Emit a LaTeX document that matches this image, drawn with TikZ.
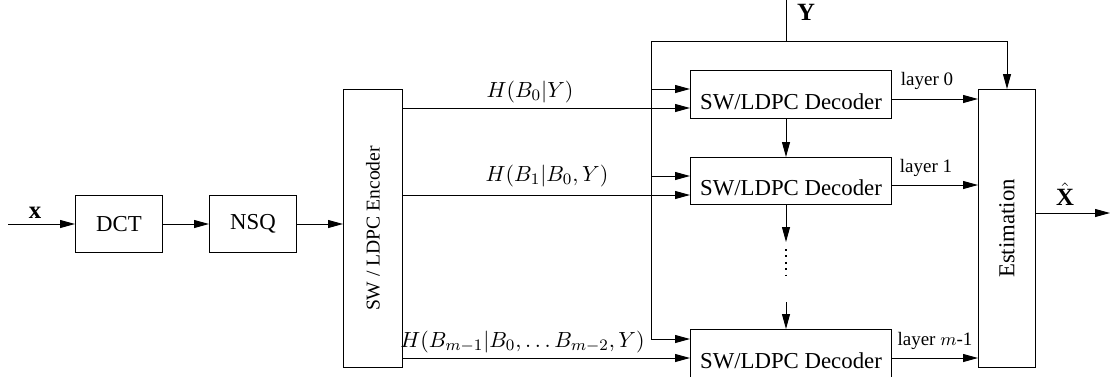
\documentclass[tikz,border=0pt]{standalone}
\usepackage{graphicx}
\usepackage{fontspec}
\setmainfont{Liberation Serif}
\usetikzlibrary{arrows.meta,calc}
\begin{document}
\begin{tikzpicture}[x=0.5pt,y=-0.5pt,line width=0.5pt,
  every node/.style={font=\fontsize{11.4}{13.7}\selectfont},
  blk/.style={draw, inner sep=0pt, anchor=north west},
  flow/.style={-{Triangle[length=7.5pt,width=4pt]}},
  dots/.style={line width=1pt, dash pattern=on 0.9pt off 2.3pt},
  small/.style={font=\fontsize{9.5}{11}\selectfont, inner sep=0pt, anchor=south},
  rate/.style={inner sep=0pt, anchor=south},
  sig/.style={font=\fontsize{12.4}{14}\selectfont}]
\useasboundingbox (0,0) rectangle (1110,376);

% processing blocks
\node[blk, minimum width=43.5pt, minimum height=28.5pt] (dct) at (75,195) {DCT};
\node[blk, minimum width=43.5pt, minimum height=28.5pt] (nsq) at (209,195) {NSQ};
\node[blk, minimum width=29.5pt, minimum height=139pt, font=\fontsize{9.8}{12}\selectfont] (enc) at (343,89) {\rotatebox{90}{SW / LDPC Encoder}};
\node[blk, minimum width=100.5pt, minimum height=24pt, text height=14.5pt, text depth=0pt] (dec0) at (690,70) {SW/LDPC Decoder};
\node[blk, minimum width=100.5pt, minimum height=23.5pt, text height=14.5pt, text depth=0pt] (dec1) at (690,157) {SW/LDPC Decoder};
\node[blk, minimum width=100.5pt, minimum height=24pt, text height=14.5pt, text depth=0pt] (dec2) at (690,329) {SW/LDPC Decoder};
\node[blk, minimum width=28.5pt, minimum height=139pt] (est) at (978,89) {\rotatebox{90}{Estimation}};

% connection points
\coordinate (in) at (8,224);
\coordinate (ytop) at (786,0);
\coordinate (ytee) at (786,41);
\coordinate (busL) at (651,41);
\coordinate (busR) at (1007,41);
\coordinate (yb0) at (690,89);
\coordinate (yb1) at (690,176);
\coordinate (yb2) at (690,339);
\coordinate (hb0) at (690,108);
\coordinate (hb1) at (690,195);
\coordinate (hb2) at (690,358);
\coordinate (ly0) at (978,99);
\coordinate (ly1) at (978,185);
\coordinate (ly2) at (978,358);
\coordinate (gapA) at (786,242);
\coordinate (dotA) at (786,249);
\coordinate (dotB) at (786,280);
\coordinate (gapB) at (786,302);
\coordinate (out) at (1110,213);

% source chain
\draw[flow] (in) -- (dct.west |- in);
\draw[flow] (dct.east |- in) -- (nsq.west |- in);
\draw[flow] (nsq.east |- in) -- (enc.west |- in);

% syndromes to the decoders
\draw[flow] (enc.east |- hb0) -- (hb0);
\draw[flow] (enc.east |- hb1) -- (hb1);
\draw[flow] (enc.east |- hb2) -- (hb2);

% side information bus
\draw (ytop) -- (ytee);
\draw (busL) -- (busR);
\draw[flow] (busR) -- (busR |- est.north);
\draw[flow] (busL) |- (yb2);
\draw[flow] (busL |- yb0) -- (yb0);
\draw[flow] (busL |- yb1) -- (yb1);

% decoder cascade
\draw[flow] (dec0.south -| ytop) -- (dec1.north -| ytop);
\draw[flow] (dec1.south -| ytop) -- (gapA);
\draw[dots] (dotA) -- (dotB);
\draw[flow] (gapB) -- (dec2.north -| ytop);

% decoded layers and output
\draw[flow] (dec0.east |- ly0) -- (ly0);
\draw[flow] (dec1.east |- ly1) -- (ly1);
\draw[flow] (dec2.east |- ly2) -- (ly2);
\draw[flow] (est.east |- out) -- (out);

% labels
\node[sig] (lx) at (35,213) {$\mathbf{x}$};
\node[sig] (ly) at (806,12) {$\mathbf{Y}$};
\node[sig] (lxh) at (1065,194) {$\hat{\mathbf{X}}$};
\node[rate] (r0) at (530,103) {$H(B_0|Y)$};
\node[rate] (r1) at (547,187) {$H(B_1|B_0,Y)$};
\node[rate] (r2) at (522.5,353) {$H(B_{m-1}|B_0,\dots B_{m-2},Y)$};
\node[small] (t0) at (927,90) {layer 0};
\node[small] (t1) at (926,177) {layer 1};
\node[small] (t2) at (935,350) {layer $m$-1};
\end{tikzpicture}
\end{document}
